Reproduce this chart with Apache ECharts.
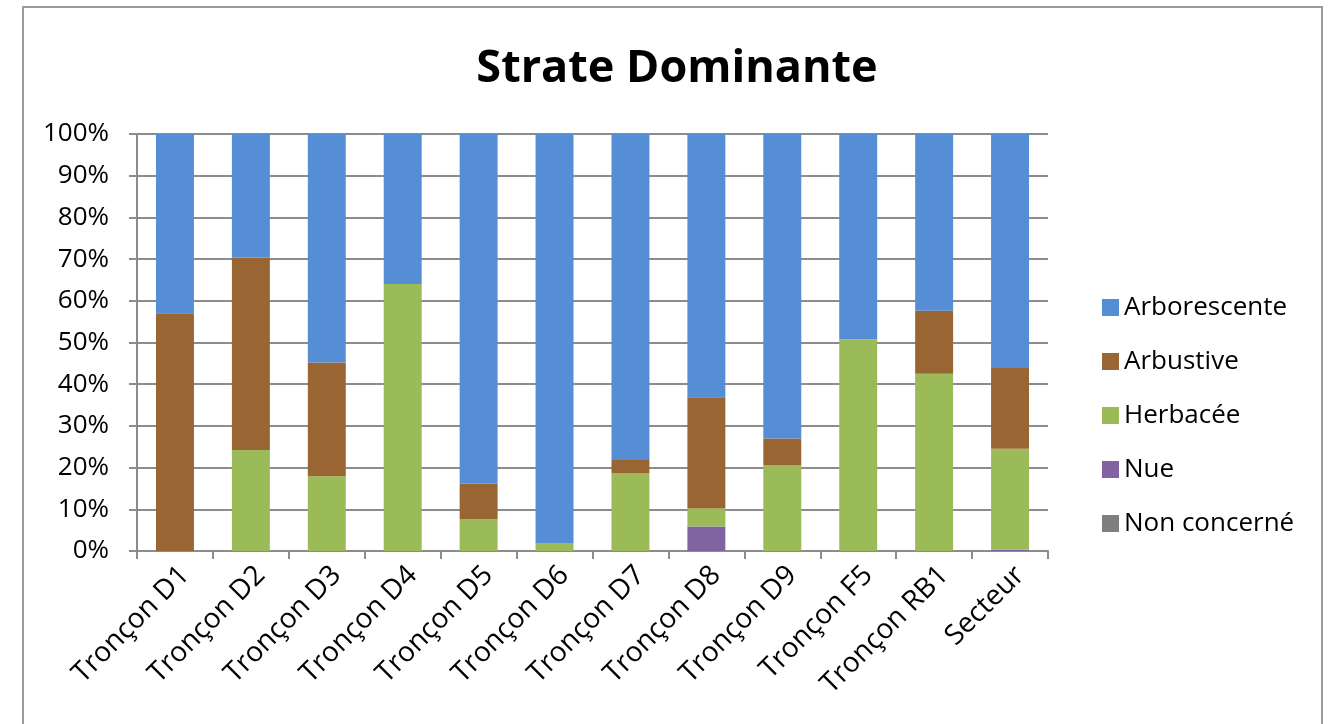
<!DOCTYPE html>
<html>
<head>
<meta charset="utf-8">
<title>Strate Dominante</title>
<script src="https://cdn.jsdelivr.net/npm/echarts@6/dist/echarts.min.js"></script>
<style>
  html, body { margin: 0; padding: 0; background: #fff; }
  #chart { width: 1331px; height: 724px; }
</style>
</head>
<body>
<div id="chart"></div>
<script>
// Sections along the river, plus the whole sector
const categories = ['Tronçon D1', 'Tronçon D2', 'Tronçon D3', 'Tronçon D4', 'Tronçon D5', 'Tronçon D6',
  'Tronçon D7', 'Tronçon D8', 'Tronçon D9', 'Tronçon F5', 'Tronçon RB1', 'Secteur'];

// Share of each dominant stratum (%), per section
const nonConcerne  = [0, 0, 0, 0, 0, 0, 0, 0, 0, 0, 0, 0];
const nue          = [0, 0, 0, 0, 0, 0, 0, 5.9, 0, 0, 0, 0.3];
const herbacee     = [0, 24.2, 17.9, 64.0, 7.7, 1.9, 18.7, 4.3, 20.6, 50.8, 42.5, 24.2];
const arbustive    = [57.0, 46.2, 27.3, 0, 8.5, 0, 3.1, 26.7, 6.4, 0, 15.1, 19.4];
const arborescente = [43.0, 29.6, 54.8, 36.0, 83.8, 98.1, 78.2, 63.1, 73.0, 49.2, 42.4, 56.1];

const legendOrder = ['Arborescente', 'Arbustive', 'Herbacée', 'Nue', 'Non concerné'];

const FONT = '"Open Sans", "Noto Sans", sans-serif';

// stacked from the bottom up
const stackSeries = [
  { name: 'Non concerné', data: nonConcerne,  color: '#7F7F7F' },
  { name: 'Nue',          data: nue,          color: '#8064A2' },
  { name: 'Herbacée',     data: herbacee,     color: '#9BBB59' },
  { name: 'Arbustive',    data: arbustive,    color: '#996633' },
  { name: 'Arborescente', data: arborescente, color: '#558ED5' }
];

const chart = echarts.init(document.getElementById('chart'), null, { renderer: 'canvas' });

chart.setOption({
  backgroundColor: '#ffffff',
  animation: false,
  textStyle: { fontFamily: FONT },
  graphic: [{
    type: 'rect',
    silent: true,
    shape: { x: 23, y: 7, width: 1299, height: 760 },
    style: { fill: 'none', stroke: '#9a9a9a', lineWidth: 2 }
  }],
  title: {
    text: 'Strate Dominante',
    left: 672,
    textAlign: 'center',
    top: 42,
    textStyle: { fontFamily: FONT, fontSize: 45, fontWeight: 'bold', color: '#000' }
  },
  legend: {
    orient: 'vertical',
    left: 1097,
    top: 289,
    itemWidth: 17,
    itemHeight: 17,
    itemGap: 27,
    icon: 'rect',
    data: legendOrder,
    textStyle: { fontFamily: FONT, fontSize: 26, color: '#000', lineHeight: 27 }
  },
  grid: { left: 137, right: 283, top: 134, bottom: 173, containLabel: false },
  xAxis: {
    type: 'category',
    data: categories,
    boundaryGap: true,
    axisLine: { show: true, lineStyle: { color: '#8c8c8c', width: 2 } },
    axisTick: { show: true, length: 8, alignWithLabel: false, lineStyle: { color: '#8c8c8c', width: 2 } },
    axisLabel: {
      rotate: 45,
      interval: 0,
      margin: 10,
      align: 'right',
      verticalAlign: 'top',
      fontFamily: FONT,
      fontSize: 28,
      color: '#000'
    }
  },
  yAxis: {
    type: 'value',
    min: 0,
    max: 100,
    interval: 10,
    axisLine: { show: true, lineStyle: { color: '#8c8c8c', width: 2 } },
    axisTick: { show: true, length: 8, lineStyle: { color: '#8c8c8c', width: 2 } },
    splitLine: { show: true, lineStyle: { color: '#8c8c8c', width: 2 } },
    axisLabel: {
      formatter: '{value}%',
      margin: 28,
      fontFamily: FONT,
      fontSize: 26,
      color: '#000'
    }
  },
  series: stackSeries.map(s => ({
    name: s.name,
    type: 'bar',
    stack: 'strate',
    data: s.data,
    barWidth: '50%',
    itemStyle: { color: s.color },
    emphasis: { disabled: true }
  }))
});
</script>
</body>
</html>
